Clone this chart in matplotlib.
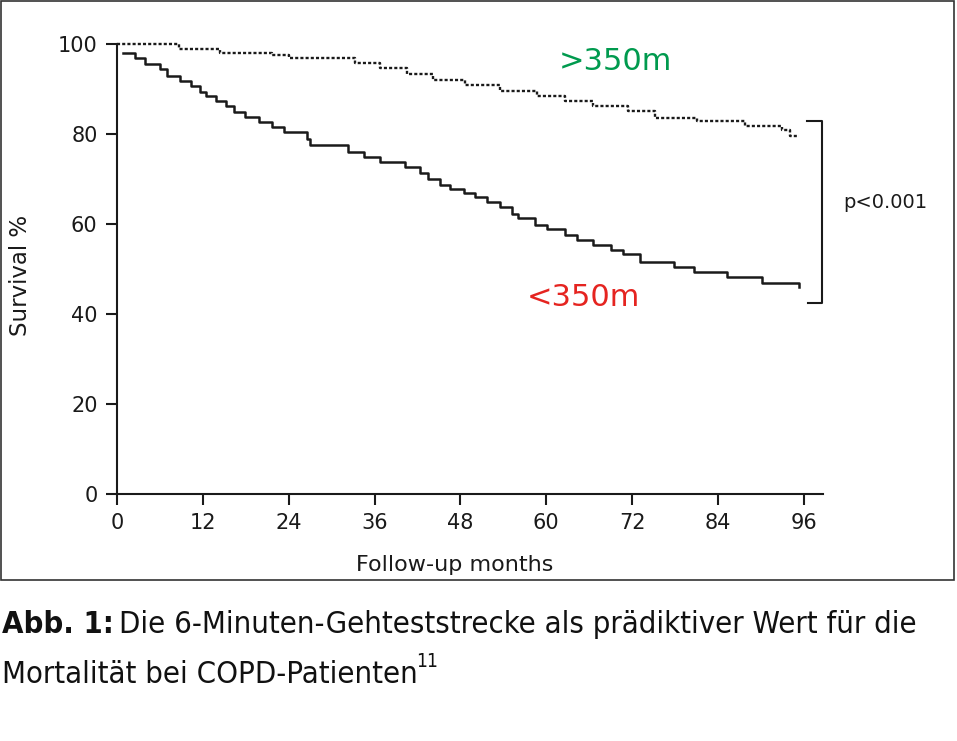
import matplotlib
matplotlib.use('Agg')
import matplotlib.pyplot as plt
from matplotlib import font_manager
from matplotlib.patches import Rectangle

# Kaplan-Meier curves (months, survival %)
t_low = [0.8, 2.5, 3.9, 6.0, 7.0, 8.8, 10.4, 11.6, 12.4, 13.9, 15.3, 16.3, 17.9,
         19.9, 21.6, 23.3, 26.5, 27.0, 32.3, 34.5, 36.8, 40.3, 42.4, 43.5, 45.2,
         46.6, 48.5, 50.0, 51.7, 53.6, 55.2, 56.1, 58.5, 60.1, 62.7, 64.3, 66.6,
         69.0, 70.8, 73.1, 77.8, 80.6, 85.3, 90.2, 95.3]
s_low = [98.1, 96.8, 95.6, 94.4, 92.9, 91.8, 90.7, 89.4, 88.4, 87.4, 86.2, 85.0, 83.7,
         82.7, 81.5, 80.5, 79.0, 77.6, 76.1, 75.0, 73.8, 72.7, 71.3, 69.9, 68.7,
         67.7, 66.8, 65.9, 65.0, 63.7, 62.2, 61.3, 59.8, 58.8, 57.6, 56.4, 55.3,
         54.2, 53.3, 51.6, 50.5, 49.4, 48.3, 47.0, 45.9]

t_high = [0, 8.6, 14.4, 21.6, 24.0, 33.3, 36.8, 40.5, 44.2, 48.7, 53.6, 58.7, 62.7,
          66.6, 71.5, 75.2, 81.1, 87.8, 93.0, 94.1, 95.3]
s_high = [100.0, 99.0, 97.9, 97.6, 96.8, 95.7, 94.6, 93.3, 92.0, 90.9, 89.6, 88.5, 87.4,
          86.2, 85.1, 83.5, 82.9, 81.8, 80.9, 79.6, 79.6]

x_ticks = [0, 12, 24, 36, 48, 60, 72, 84, 96]
y_ticks = [0, 20, 40, 60, 80, 100]

green = '#009a4e'
red = '#e52420'

W, H = 957, 741
fig = plt.figure(figsize=(W/100, H/100), dpi=100)
fig.set_facecolor('white')
ax = fig.add_axes([117/W, 1-494/H, (823-117)/W, (494-44)/H])

ax.step(t_low, s_low, where='post', color='#1a1a1a', lw=1.8, clip_on=False)
ax.step(t_high, s_high, where='post', color='#1a1a1a', lw=1.7,
        linestyle=(0, (1.3, 0.9)), clip_on=False)

ax.set_xlim(0, 98.7)
ax.set_ylim(0, 100)
ax.set_xticks(x_ticks)
ax.set_yticks(y_ticks)
for s in ['top', 'right']:
    ax.spines[s].set_visible(False)
for s in ['left', 'bottom']:
    ax.spines[s].set_linewidth(1.5)
    ax.spines[s].set_color('#1a1a1a')
ax.tick_params(direction='out', length=8, width=1.5, color='#1a1a1a',
               labelsize=15, pad=6, labelcolor='#1a1a1a')

ax.set_ylabel('Survival %', fontsize=16.5, color='#1a1a1a')
ax.yaxis.set_label_coords(-(117-32)/706, (494-275)/450)
ax.set_xlabel('Follow-up months', fontsize=16, color='#1a1a1a')
ax.xaxis.set_label_coords((455-117)/706, -(565-494)/450)
ax.xaxis.label.set_va('center')

ax.text(61.7, 96, '>350m', color=green, fontsize=22, ha='left', va='center')
ax.text(57.3, 43.6, '<350m', color=red, fontsize=22, ha='left', va='center')

# bracket with p-value
ax.plot([96.4, 98.6, 98.6, 96.6], [83, 83, 42.4, 42.4], color='#1a1a1a',
        lw=1.5, clip_on=False)
ax.text(101.5, 64.7, 'p<0.001', fontsize=14, ha='left', va='center', color='#1a1a1a')

# frame around chart
fig.patches.append(Rectangle((1/W, 1-580/H), 953/W, 579/H, transform=fig.transFigure,
                             fill=False, edgecolor='#333333', lw=1.2))

# caption
names = {f.name for f in font_manager.fontManager.ttflist}
if 'Liberation Sans Narrow' in names:
    cap_kw = dict(family='Liberation Sans Narrow')
else:
    cap_kw = dict(family='DejaVu Sans', stretch='condensed')

r = fig.canvas.get_renderer()
line1_bold = 'Abb. 1:'
line1 = 'Die 6-Minuten-Gehteststrecke als prädiktiver Wert für die'
line2 = 'Mortalität bei COPD-Patienten'


def draw_caption(fs):
    t1 = fig.text(2/W, 1-633/H, line1_bold, fontsize=fs, weight='bold',
                  va='baseline', color='#111111', **cap_kw)
    bb = t1.get_window_extent(r)
    t2 = fig.text((bb.x1 + 0.25*fs)/W, 1-633/H, line1, fontsize=fs,
                  va='baseline', color='#111111', **cap_kw)
    t3 = fig.text(2/W, 1-683/H, line2, fontsize=fs, va='baseline',
                  color='#111111', **cap_kw)
    bb3 = t3.get_window_extent(r)
    t4 = fig.text((bb3.x1 - 2)/W, 1-667/H, '11', fontsize=fs*0.62,
                  va='baseline', color='#111111', **cap_kw)
    return [t1, t2, t3, t4], t2.get_window_extent(r).x1


fs = 24
arts, right = draw_caption(fs)
for a in arts:
    a.remove()
fs = fs * (918 - 2) / (right - 2)
draw_caption(fs)

fig.savefig('out.png', dpi=100, facecolor='white')
